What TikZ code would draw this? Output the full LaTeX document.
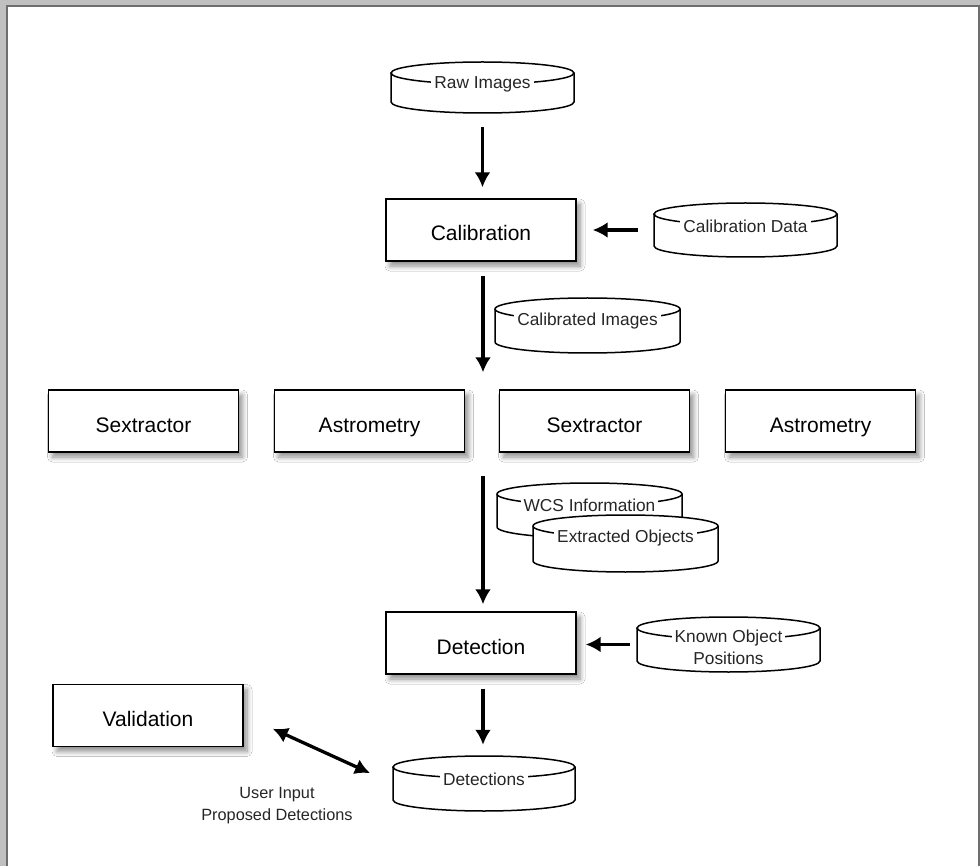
\documentclass[tikz,border=0pt]{standalone}
\usepackage{fontspec}
\setmainfont{Liberation Sans}
\usetikzlibrary{arrows.meta,shadows.blur}
\definecolor{frameg}{RGB}{192,192,192}
\definecolor{framed}{RGB}{110,110,110}
\tikzset{
  box/.style={draw=black, line width=1.4pt, fill=white, minimum width=190pt, minimum height=62pt,
    inner sep=0pt, text height=22pt, text depth=0pt, font=\fontsize{21}{25}\selectfont,
    blur shadow={shadow xshift=4pt, shadow yshift=-5pt, shadow blur radius=5pt, shadow blur steps=8, shadow opacity=45}},
  cylline/.style={draw=black, line width=1.5pt},
  cyltext/.style={fill=white, inner xsep=3pt, inner ysep=1pt, font=\fontsize{17.3}{22}\selectfont, text=black!85},
  cylarea/.style={draw=none, inner sep=0pt},
  plainlabel/.style={inner sep=0pt, align=center, font=\fontsize{16.3}{22}\selectfont, text=black!85},
  arr/.style={line width=3.3pt, -{Latex[length=15pt,width=16pt]}},
  darr/.style={line width=3.3pt, {Latex[length=15pt,width=16pt]}-{Latex[length=15pt,width=16pt]}},
}
% name, left, top, right, bottom
\newcommand{\dbcyl}[5]{%
  \pgfmathsetmacro{\cylX}{(#2+#4)/2}%
  \pgfmathsetmacro{\cylRX}{(#4-#2)/2}%
  \pgfmathsetmacro{\cylY}{(#3+#5)/2}%
  \pgfmathsetmacro{\cylW}{#4-#2}%
  \pgfmathsetmacro{\cylH}{#5-#3}%
  \fill[white] (#2,#3+11) -- (#2,#5-11) arc[start angle=180,end angle=360,x radius=\cylRX pt,y radius=11pt]
     -- (#4,#3+11) arc[start angle=0,end angle=180,x radius=\cylRX pt,y radius=11pt] -- cycle;
  \draw[cylline] (#2,#3+11) -- (#2,#5-11) arc[start angle=180,end angle=360,x radius=\cylRX pt,y radius=11pt] -- (#4,#3+11);
  \draw[cylline] (\cylX,#3+11) ellipse[x radius=\cylRX pt, y radius=11pt];
  \node[cylarea, minimum width=\cylW pt, minimum height=\cylH pt] (#1) at (\cylX,\cylY) {};
}
\begin{document}
\begin{tikzpicture}[x=1pt,y=-1pt]
\useasboundingbox (0,0) rectangle (980,866);
\fill[white] (0,0) rectangle (980,866);
\fill[frameg] (0,0) rectangle (980,5);
\fill[frameg] (0,0) rectangle (6.5,866);
\draw[framed, line width=2pt] (7,866) -- (7,5.8) -- (979,5.8) -- (979,866);

% boxes
\node[box] (calib) at (481,230) {Calibration};
\node[box] (sex1) at (143.5,421) {Sextractor};
\node[box] (ast1) at (369.5,421) {Astrometry};
\node[box] (sex2) at (594.5,421) {Sextractor};
\node[box] (ast2) at (820.5,421) {Astrometry};
\node[box] (det) at (481,643) {Detection};
\node[box] (val) at (148,715.5) {Validation};

% cylinders
\dbcyl{raw}{391}{62}{574}{113}
\node[cyltext] (rawt) at (482.5,84) {Raw Images};
\dbcyl{caldata}{654}{203}{837}{257}
\node[cyltext] (caldatat) at (745.5,226) {Calibration Data};
\dbcyl{calimg}{495}{298}{680}{353}
\node[cyltext] (calimgt) at (587.5,321) {Calibrated Images};
\dbcyl{wcs}{497}{483}{682}{538}
\node[cyltext] (wcst) at (589.5,505) {WCS Information};
\dbcyl{extr}{533}{515}{718}{572}
\node[cyltext] (extrt) at (625.5,538) {Extracted Objects};
\dbcyl{known}{637}{617}{820}{672}
\node[cyltext, align=center] (knownt) at (728.5,647) {Known Object\\Positions};
\dbcyl{dets}{393}{756}{575}{811}
\node[cyltext] (detst) at (484,779) {Detections};

% connectors
\draw[arr, shorten <=14pt, shorten >=11pt] (raw.south) -- (raw.south |- calib.north);
\draw[arr, shorten <=16pt, shorten >=16pt] (caldata.west) -- (calib.east);
\draw[arr, shorten <=14pt, shorten >=17pt] ([xshift=2pt]calib.south) -- ([xshift=2pt]calib.south |- ast1.north);
\draw[arr, shorten <=23pt, shorten >=7pt] ([xshift=2pt]det.north |- ast1.south) -- ([xshift=2pt]det.north);
\draw[arr, shorten <=7pt, shorten >=9pt] (known.west) -- (known.west -| det.east);
\draw[arr, shorten <=14pt, shorten >=11pt] ([xshift=2pt]det.south) -- ([xshift=2pt]det.south |- dets.north);
\draw[darr, shorten <=32pt, shorten >=25pt] (val.east) -- (dets.west);

\node[plainlabel] (uinput) at (277,806) {User Input\\Proposed Detections};
\end{tikzpicture}
\end{document}
